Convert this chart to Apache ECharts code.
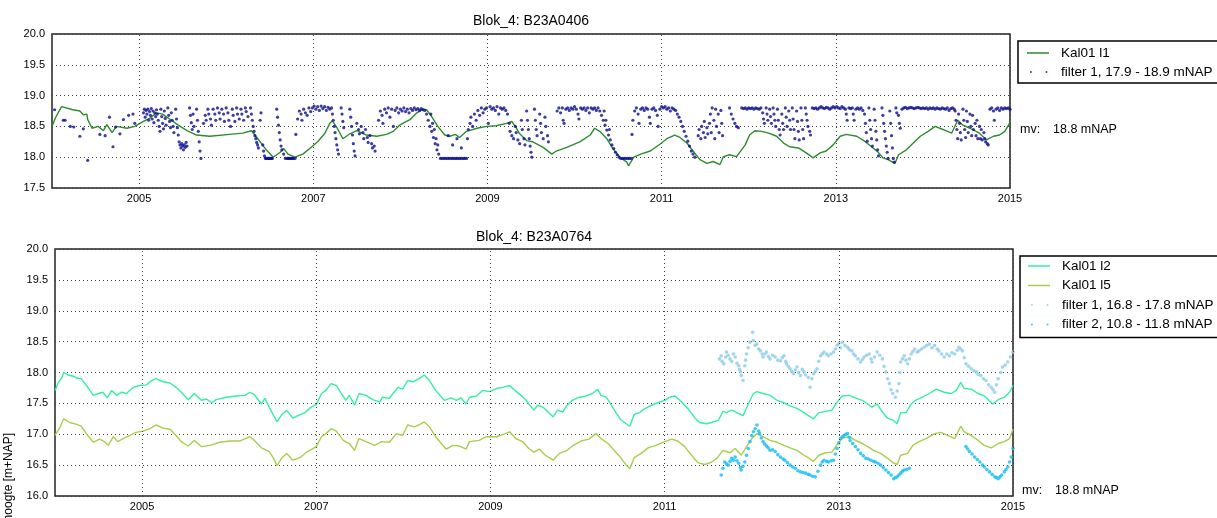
<!DOCTYPE html>
<html>
<head>
<meta charset="utf-8">
<script src="https://cdn.jsdelivr.net/npm/echarts@6/dist/echarts.min.js"></script>
<style>
  html, body { margin: 0; padding: 0; background: #fff; }
  #chart { width: 1217px; height: 518px; }
</style>
</head>
<body>
<div id="chart"></div>
<script>
var FONT = '"Liberation Sans", Arial, sans-serif';

// x values are decimal years
var yearTicks = [2005, 2007, 2009, 2011, 2013, 2015];

// --- Blok_4: B23A0406 ---
var kal01_l1 = [[2004.0,18.5],[2004.04,18.64],[2004.11,18.82],[2004.24,18.77],[2004.32,18.75],[2004.36,18.69],[2004.4,18.7],[2004.41,18.61],[2004.46,18.47],[2004.53,18.5],[2004.59,18.43],[2004.63,18.53],[2004.69,18.4],[2004.74,18.5],[2004.86,18.47],[2004.95,18.5],[2005.05,18.58],[2005.13,18.64],[2005.2,18.72],[2005.27,18.7],[2005.35,18.62],[2005.45,18.52],[2005.55,18.43],[2005.66,18.36],[2005.81,18.34],[2006.04,18.37],[2006.19,18.39],[2006.29,18.43],[2006.33,18.36],[2006.39,18.25],[2006.46,18.12],[2006.54,18.0],[2006.62,18.08],[2006.66,18.14],[2006.71,18.05],[2006.79,18.0],[2006.88,18.05],[2006.96,18.14],[2007.05,18.25],[2007.13,18.38],[2007.19,18.55],[2007.22,18.59],[2007.28,18.46],[2007.34,18.3],[2007.42,18.38],[2007.5,18.43],[2007.61,18.36],[2007.73,18.34],[2007.84,18.37],[2007.92,18.42],[2008.0,18.53],[2008.11,18.61],[2008.19,18.72],[2008.26,18.78],[2008.3,18.77],[2008.36,18.66],[2008.43,18.5],[2008.51,18.36],[2008.57,18.34],[2008.63,18.37],[2008.68,18.32],[2008.76,18.42],[2008.88,18.47],[2008.99,18.5],[2009.1,18.51],[2009.22,18.55],[2009.28,18.58],[2009.32,18.5],[2009.37,18.38],[2009.45,18.27],[2009.52,18.25],[2009.64,18.16],[2009.74,18.05],[2009.79,18.1],[2009.91,18.16],[2010.06,18.25],[2010.18,18.36],[2010.23,18.47],[2010.29,18.42],[2010.37,18.3],[2010.44,18.14],[2010.52,18.0],[2010.6,17.92],[2010.62,17.86],[2010.68,18.0],[2010.76,18.05],[2010.87,18.1],[2010.98,18.21],[2011.06,18.3],[2011.15,18.36],[2011.21,18.32],[2011.29,18.23],[2011.36,18.1],[2011.44,17.96],[2011.52,17.9],[2011.59,17.93],[2011.67,17.88],[2011.71,18.01],[2011.78,18.04],[2011.86,18.01],[2011.96,18.2],[2012.01,18.36],[2012.07,18.43],[2012.15,18.42],[2012.23,18.39],[2012.32,18.34],[2012.4,18.23],[2012.47,18.17],[2012.57,18.15],[2012.66,18.07],[2012.74,17.99],[2012.82,18.07],[2012.89,18.1],[2012.97,18.2],[2013.05,18.34],[2013.12,18.37],[2013.24,18.34],[2013.33,18.26],[2013.41,18.17],[2013.48,18.09],[2013.54,17.99],[2013.6,17.96],[2013.68,17.9],[2013.72,18.04],[2013.81,18.12],[2013.89,18.23],[2013.97,18.34],[2014.06,18.42],[2014.14,18.5],[2014.23,18.45],[2014.33,18.39],[2014.4,18.6],[2014.46,18.52],[2014.54,18.47],[2014.65,18.39],[2014.73,18.28],[2014.81,18.34],[2014.88,18.36],[2014.94,18.42],[2015.0,18.56]];

var filter1_0406 = [
[2004.03,18.77],[2004.13,18.6],[2004.15,18.6],[2004.21,18.5],[2004.25,18.49],[2004.32,18.34],[2004.36,18.46],[2004.41,17.95],[2004.55,18.37],[2004.61,18.35],[2004.66,18.65],[2004.7,18.17],[2004.73,18.49],[2004.78,18.38],[2004.82,18.61],[2004.88,18.68],[2004.93,18.7],[2004.95,18.55],
[2005.05,18.72],[2005.06,18.78],[2005.07,18.65],[2005.08,18.76],[2005.09,18.7],[2005.1,18.78],[2005.11,18.6],[2005.12,18.74],[2005.13,18.68],[2005.14,18.79],[2005.15,18.62],[2005.16,18.75],[2005.17,18.56],[2005.18,18.72],[2005.19,18.66],[2005.2,18.77],
[2005.21,18.7],[2005.22,18.6],[2005.23,18.5],[2005.24,18.42],[2005.25,18.78],[2005.26,18.66],[2005.27,18.55],[2005.28,18.46],[2005.29,18.75],[2005.3,18.63],[2005.31,18.52],
[2005.33,18.8],[2005.34,18.68],[2005.35,18.58],[2005.36,18.48],[2005.37,18.72],[2005.38,18.6],[2005.39,18.5],[2005.4,18.4],
[2005.42,18.78],[2005.43,18.62],[2005.44,18.48],[2005.45,18.36],[2005.46,18.25],[2005.47,18.2],[2005.48,18.15],[2005.49,18.22],[2005.5,18.18],[2005.51,18.12],[2005.52,18.2],[2005.53,18.16],[2005.54,18.24],[2005.55,18.18],
[2005.58,18.8],[2005.59,18.68],[2005.6,18.56],[2005.61,18.45],[2005.62,18.7],[2005.63,18.5],
[2005.66,18.78],[2005.67,18.6],[2005.68,18.42],[2005.69,18.25],[2005.7,18.1],[2005.71,17.98],
[2005.74,18.55],[2005.76,18.68],[2005.77,18.6],[2005.79,18.78],[2005.8,18.7],[2005.82,18.62],[2005.83,18.52],[2005.85,18.78],[2005.87,18.7],[2005.88,18.6],[2005.9,18.8],[2005.92,18.72],[2005.93,18.62],[2005.95,18.78],[2005.97,18.7],[2005.98,18.58],[2006.0,18.8],[2006.02,18.72],[2006.03,18.6],[2006.05,18.5],[2006.07,18.78],[2006.08,18.68],[2006.1,18.58],[2006.12,18.8],[2006.13,18.7],[2006.15,18.62],[2006.17,18.78],[2006.18,18.7],[2006.2,18.6],[2006.22,18.8],[2006.23,18.74],[2006.25,18.66],
[2006.28,18.8],[2006.29,18.7],[2006.3,18.6],[2006.31,18.5],[2006.32,18.42],[2006.33,18.35],[2006.34,18.3],[2006.35,18.24],[2006.36,18.2],[2006.37,18.15],[2006.39,18.6],[2006.4,18.72],
[2006.42,18.2],[2006.43,18.1],[2006.44,18.02],[2006.45,17.98],[2006.46,17.98],[2006.47,17.98],[2006.48,17.98],[2006.49,17.98],[2006.5,17.98],[2006.51,17.98],[2006.52,17.98],[2006.53,17.98],
[2006.58,18.78],[2006.59,18.65],[2006.6,18.52],[2006.61,18.4],[2006.62,18.28],[2006.63,18.18],[2006.64,18.12],
[2006.66,18.05],[2006.68,17.98],[2006.7,17.98],[2006.71,17.98],[2006.72,17.98],[2006.73,17.98],[2006.74,17.98],[2006.75,17.98],[2006.76,17.98],[2006.77,17.98],[2006.79,17.98],[2006.8,18.37],
[2006.82,18.62],[2006.84,18.75],[2006.86,18.7],[2006.87,18.6],[2006.89,18.78],[2006.91,18.72],[2006.93,18.68],[2006.95,18.8],[2006.97,18.74],
[2006.99,18.8],[2007.01,18.83],[2007.03,18.78],[2007.05,18.82],[2007.07,18.76],[2007.09,18.83],[2007.11,18.79],[2007.13,18.82],[2007.15,18.76],[2007.17,18.81],[2007.19,18.78],
[2007.21,18.8],[2007.22,18.7],[2007.23,18.6],[2007.24,18.5],[2007.25,18.4],[2007.26,18.3],[2007.27,18.2],[2007.28,18.12],[2007.29,18.05],
[2007.32,18.8],[2007.33,18.7],[2007.34,18.58],[2007.35,18.48],
[2007.42,18.78],[2007.43,18.65],[2007.44,18.5],[2007.45,18.36],[2007.46,18.22],[2007.47,18.1],[2007.48,18.02],
[2007.5,18.55],[2007.52,18.45],[2007.53,18.38],[2007.55,18.5],[2007.57,18.4],[2007.58,18.3],[2007.6,18.45],[2007.62,18.32],[2007.63,18.24],[2007.65,18.35],[2007.67,18.22],[2007.68,18.15],[2007.7,18.18],[2007.71,18.1],
[2007.75,18.6],[2007.77,18.75],[2007.79,18.68],[2007.8,18.55],[2007.82,18.78],[2007.84,18.72],[2007.86,18.8],[2007.88,18.65],[2007.9,18.78],[2007.92,18.5],[2007.94,18.76],[2007.96,18.8],[2007.98,18.72],[2008.0,18.78],[2008.02,18.75],[2008.04,18.8],[2008.06,18.74],[2008.08,18.78],[2008.1,18.72],[2008.12,18.79],[2008.14,18.76],[2008.16,18.8],[2008.18,18.77],[2008.2,18.79],[2008.22,18.76],[2008.24,18.79],[2008.26,18.77],
[2008.28,18.76],[2008.3,18.7],[2008.32,18.6],[2008.34,18.5],[2008.36,18.42],[2008.38,18.32],[2008.4,18.22],[2008.42,18.12],[2008.44,18.05],[2008.35,18.7],[2008.37,18.55],[2008.39,18.45],[2008.41,18.3],[2008.43,18.2],
[2008.46,17.98],[2008.48,17.98],[2008.5,17.98],[2008.52,17.98],[2008.54,17.98],[2008.56,17.98],[2008.58,17.98],[2008.6,17.98],[2008.62,17.98],[2008.64,17.98],[2008.66,17.98],[2008.68,17.98],[2008.7,17.98],[2008.72,17.98],[2008.74,17.98],[2008.76,17.98],[2008.55,18.35],[2008.6,18.2],[2008.65,18.3],[2008.7,18.15],
[2008.77,18.3],[2008.78,18.45],[2008.8,18.55],[2008.81,18.65],[2008.83,18.5],[2008.85,18.7],[2008.87,18.6],[2008.89,18.76],[2008.91,18.68],[2008.93,18.8],[2008.95,18.72],[2008.97,18.78],[2008.99,18.8],
[2009.01,18.55],[2009.03,18.82],[2009.05,18.78],[2009.07,18.8],[2009.09,18.76],[2009.11,18.82],[2009.13,18.7],[2009.15,18.8],[2009.17,18.78],[2009.19,18.8],[2009.21,18.76],
[2009.23,18.7],[2009.25,18.55],[2009.26,18.42],[2009.28,18.35],[2009.3,18.3],[2009.32,18.5],[2009.33,18.4],[2009.35,18.28],[2009.37,18.22],[2009.39,18.6],[2009.4,18.45],[2009.42,18.3],[2009.43,18.2],[2009.45,18.75],[2009.46,18.6],[2009.47,18.45],[2009.48,18.3],[2009.49,18.18],[2009.5,18.08],[2009.51,18.0],
[2009.54,18.78],[2009.55,18.6],[2009.56,18.45],[2009.57,18.35],[2009.6,18.7],[2009.61,18.55],[2009.62,18.4],[2009.64,18.3],[2009.66,18.65],[2009.67,18.5],[2009.69,18.35],[2009.7,18.25],
[2009.8,18.75],[2009.82,18.8],[2009.84,18.72],[2009.86,18.8],[2009.87,18.6],[2009.88,18.55],[2009.9,18.78],[2009.92,18.8],[2009.94,18.76],[2009.96,18.8],[2009.98,18.78],[2010.0,18.82],[2010.02,18.78],[2010.04,18.7],[2010.05,18.62],[2010.07,18.8],[2010.09,18.78],[2010.11,18.8],[2010.13,18.76],[2010.15,18.8],[2010.17,18.72],[2010.19,18.8],[2010.21,18.78],[2010.23,18.8],[2010.25,18.76],[2010.27,18.8],
[2010.29,18.75],[2010.31,18.68],[2010.33,18.6],[2010.35,18.52],[2010.37,18.44],[2010.39,18.36],[2010.41,18.28],[2010.43,18.2],[2010.45,18.14],[2010.47,18.08],[2010.49,18.04],[2010.51,18.0],[2010.34,18.75],[2010.36,18.6],[2010.4,18.45],
[2010.53,17.98],[2010.55,17.98],[2010.57,17.98],[2010.59,17.98],[2010.61,17.98],[2010.63,17.98],[2010.65,17.98],[2010.66,18.37],
[2010.67,18.6],[2010.69,18.75],[2010.71,18.8],[2010.73,18.7],[2010.74,18.55],[2010.76,18.78],[2010.78,18.8],[2010.8,18.76],[2010.82,18.8],[2010.84,18.78],[2010.86,18.65],[2010.87,18.55],[2010.89,18.78],[2010.91,18.8],[2010.93,18.76],[2010.95,18.68],[2010.96,18.5],[2010.98,18.78],[2011.0,18.82],[2011.02,18.8],[2011.04,18.82],[2011.06,18.78],[2011.08,18.8],[2011.1,18.75],[2011.12,18.8],[2011.14,18.78],[2011.16,18.76],[2011.18,18.7],
[2011.2,18.65],[2011.22,18.58],[2011.24,18.5],[2011.26,18.42],[2011.28,18.34],[2011.3,18.26],[2011.32,18.18],[2011.34,18.1],[2011.36,18.05],[2011.38,18.0],
[2011.42,18.35],[2011.43,18.45],[2011.45,18.3],[2011.46,18.5],[2011.48,18.4],[2011.49,18.58],[2011.5,18.32],[2011.52,18.48],[2011.53,18.38],[2011.55,18.55],
[2011.56,18.7],[2011.57,18.4],[2011.58,18.8],[2011.6,18.6],[2011.61,18.3],[2011.62,18.78],[2011.63,18.5],[2011.65,18.7],[2011.66,18.4],[2011.68,18.76],[2011.69,18.55],[2011.7,18.35],
[2011.78,18.8],[2011.8,18.7],[2011.82,18.62],[2011.84,18.55],[2011.86,18.5],[2011.88,18.48],
[2011.92,18.8],[2011.94,18.79],[2011.96,18.8],[2011.98,18.78],[2012.0,18.8],[2012.02,18.79],[2012.04,18.8],[2012.06,18.78],[2012.08,18.8],[2012.1,18.79],[2012.12,18.78],[2012.14,18.8],
[2012.16,18.72],[2012.17,18.62],[2012.18,18.55],[2012.2,18.8],[2012.21,18.7],[2012.22,18.6],[2012.24,18.78],[2012.25,18.66],[2012.26,18.55],[2012.28,18.8],[2012.29,18.7],
[2012.3,18.6],[2012.31,18.5],[2012.33,18.78],[2012.34,18.6],[2012.35,18.45],[2012.36,18.36],[2012.38,18.7],[2012.39,18.55],[2012.4,18.45],[2012.42,18.8],[2012.43,18.65],[2012.44,18.5],[2012.46,18.75],[2012.47,18.6],[2012.48,18.45],
[2012.5,18.8],[2012.51,18.62],[2012.52,18.45],[2012.53,18.3],[2012.55,18.75],[2012.56,18.58],[2012.57,18.42],[2012.58,18.28],[2012.6,18.8],[2012.61,18.6],[2012.62,18.45],[2012.63,18.3],
[2012.65,18.8],[2012.66,18.7],[2012.67,18.6],[2012.68,18.5],[2012.7,18.42],[2012.71,18.36],
[2012.73,18.8],[2012.75,18.79],[2012.77,18.8],[2012.79,18.78],[2012.81,18.8],[2012.83,18.82],[2012.85,18.8],[2012.87,18.79],[2012.89,18.81],[2012.91,18.8],[2012.93,18.78],[2012.95,18.8],[2012.97,18.82],[2012.99,18.8],
[2013.01,18.82],[2013.03,18.8],[2013.05,18.79],[2013.07,18.82],[2013.09,18.8],[2013.11,18.78],[2013.12,18.7],[2013.13,18.6],[2013.15,18.8],[2013.17,18.79],[2013.19,18.8],[2013.2,18.7],[2013.21,18.6],[2013.23,18.78],[2013.25,18.8],[2013.27,18.78],[2013.29,18.8],[2013.31,18.76],
[2013.33,18.7],[2013.34,18.55],[2013.35,18.4],[2013.36,18.26],[2013.38,18.8],[2013.39,18.6],[2013.4,18.45],[2013.41,18.3],[2013.42,18.18],[2013.44,18.78],[2013.45,18.6],[2013.46,18.42],[2013.47,18.28],[2013.48,18.12],[2013.49,18.02],
[2013.53,18.8],[2013.54,18.68],[2013.55,18.55],[2013.56,18.42],[2013.57,18.3],[2013.58,18.18],[2013.59,18.08],[2013.6,17.98],[2013.62,18.75],[2013.63,18.55],[2013.64,18.35],[2013.65,18.15],[2013.66,17.98],[2013.67,17.92],
[2013.69,18.8],[2013.7,18.72],[2013.72,18.68],[2013.73,18.55],[2013.74,18.47],
[2013.76,18.78],[2013.78,18.8],[2013.8,18.81],[2013.82,18.79],[2013.84,18.8],[2013.86,18.81],[2013.88,18.8],[2013.9,18.79],[2013.92,18.8],[2013.94,18.81],[2013.96,18.8],[2013.98,18.79],[2014.0,18.8],[2014.02,18.79],[2014.04,18.8],[2014.06,18.78],[2014.08,18.8],[2014.1,18.79],[2014.12,18.8],[2014.14,18.78],[2014.16,18.8],[2014.18,18.79],[2014.2,18.78],[2014.22,18.8],[2014.24,18.79],[2014.26,18.78],[2014.28,18.8],[2014.3,18.76],[2014.32,18.79],[2014.34,18.8],[2014.36,18.78],
[2014.37,18.75],[2014.38,18.6],[2014.39,18.45],[2014.4,18.3],[2014.41,18.7],[2014.42,18.55],[2014.43,18.4],[2014.44,18.28],[2014.46,18.78],[2014.47,18.6],[2014.48,18.45],[2014.49,18.32],[2014.5,18.75],[2014.51,18.58],[2014.52,18.4],[2014.54,18.7],[2014.55,18.5],[2014.56,18.35],
[2014.57,18.68],[2014.58,18.45],[2014.6,18.55],[2014.61,18.35],[2014.62,18.6],[2014.63,18.3],[2014.65,18.5],[2014.66,18.3],[2014.67,18.45],[2014.68,18.28],[2014.7,18.4],[2014.71,18.3],[2014.72,18.25],[2014.74,18.22],[2014.75,18.2],
[2014.77,18.78],[2014.79,18.8],[2014.81,18.75],[2014.82,18.6],[2014.84,18.78],[2014.86,18.8],[2014.88,18.76],[2014.9,18.8],[2014.92,18.78],[2014.94,18.8],[2014.96,18.79],[2014.98,18.8],[2015.0,18.78]
];

// --- Blok_4: B23A0764 ---
var kal01_l2 = [[2004.0,17.71],[2004.04,17.84],[2004.08,17.92],[2004.1,18.0],[2004.15,17.96],[2004.21,17.94],[2004.25,17.91],[2004.3,17.9],[2004.36,17.79],[2004.44,17.63],[2004.5,17.66],[2004.55,17.68],[2004.6,17.59],[2004.65,17.71],[2004.71,17.63],[2004.76,17.68],[2004.82,17.66],[2004.9,17.76],[2004.97,17.79],[2005.05,17.8],[2005.11,17.87],[2005.16,17.9],[2005.24,17.85],[2005.32,17.83],[2005.39,17.76],[2005.45,17.68],[2005.53,17.56],[2005.6,17.66],[2005.68,17.55],[2005.74,17.57],[2005.8,17.51],[2005.85,17.56],[2005.97,17.6],[2006.08,17.62],[2006.18,17.63],[2006.24,17.68],[2006.29,17.64],[2006.37,17.49],[2006.41,17.58],[2006.46,17.44],[2006.5,17.33],[2006.55,17.2],[2006.6,17.31],[2006.66,17.39],[2006.73,17.26],[2006.79,17.3],[2006.87,17.35],[2006.94,17.44],[2007.0,17.48],[2007.06,17.66],[2007.11,17.71],[2007.17,17.82],[2007.23,17.79],[2007.28,17.68],[2007.34,17.55],[2007.38,17.63],[2007.44,17.47],[2007.49,17.66],[2007.57,17.63],[2007.65,17.56],[2007.73,17.52],[2007.76,17.6],[2007.84,17.58],[2007.88,17.66],[2007.94,17.76],[2007.99,17.73],[2008.05,17.87],[2008.11,17.85],[2008.19,17.91],[2008.24,17.96],[2008.3,17.87],[2008.37,17.71],[2008.47,17.55],[2008.55,17.59],[2008.61,17.55],[2008.66,17.59],[2008.72,17.49],[2008.76,17.6],[2008.84,17.62],[2008.91,17.71],[2008.99,17.69],[2009.07,17.74],[2009.14,17.76],[2009.22,17.79],[2009.28,17.71],[2009.35,17.63],[2009.41,17.55],[2009.44,17.49],[2009.5,17.39],[2009.54,17.47],[2009.6,17.44],[2009.67,17.35],[2009.72,17.28],[2009.77,17.39],[2009.83,17.36],[2009.88,17.47],[2009.94,17.55],[2010.02,17.6],[2010.1,17.62],[2010.17,17.66],[2010.23,17.73],[2010.27,17.63],[2010.33,17.6],[2010.38,17.49],[2010.44,17.35],[2010.5,17.23],[2010.56,17.17],[2010.6,17.13],[2010.65,17.32],[2010.71,17.35],[2010.77,17.41],[2010.85,17.47],[2010.92,17.51],[2011.0,17.55],[2011.06,17.6],[2011.12,17.62],[2011.19,17.53],[2011.27,17.41],[2011.35,17.26],[2011.4,17.19],[2011.48,17.17],[2011.54,17.19],[2011.62,17.23],[2011.67,17.37],[2011.71,17.35],[2011.77,17.39],[2011.83,17.35],[2011.9,17.3],[2011.96,17.49],[2012.02,17.66],[2012.06,17.69],[2012.13,17.66],[2012.21,17.63],[2012.29,17.55],[2012.37,17.51],[2012.44,17.46],[2012.52,17.42],[2012.6,17.35],[2012.65,17.3],[2012.71,17.25],[2012.77,17.35],[2012.85,17.37],[2012.92,17.39],[2012.98,17.52],[2013.04,17.62],[2013.12,17.63],[2013.19,17.59],[2013.27,17.55],[2013.33,17.49],[2013.38,17.44],[2013.44,17.49],[2013.5,17.36],[2013.56,17.26],[2013.62,17.23],[2013.67,17.17],[2013.71,17.35],[2013.77,17.35],[2013.83,17.49],[2013.88,17.55],[2013.96,17.6],[2014.04,17.66],[2014.12,17.73],[2014.21,17.68],[2014.29,17.66],[2014.35,17.71],[2014.4,17.84],[2014.44,17.74],[2014.52,17.73],[2014.6,17.66],[2014.67,17.62],[2014.77,17.49],[2014.83,17.56],[2014.9,17.6],[2014.96,17.68],[2015.0,17.79]];

var kal01_l5 = [[2004.0,16.98],[2004.06,17.12],[2004.1,17.25],[2004.17,17.19],[2004.25,17.16],[2004.3,17.13],[2004.36,17.01],[2004.44,16.87],[2004.51,16.92],[2004.57,16.88],[2004.61,16.82],[2004.67,16.96],[2004.72,16.88],[2004.78,16.93],[2004.86,16.98],[2004.93,17.03],[2005.01,17.05],[2005.09,17.09],[2005.16,17.15],[2005.24,17.1],[2005.32,17.08],[2005.39,16.98],[2005.45,16.88],[2005.53,16.81],[2005.6,16.9],[2005.68,16.8],[2005.78,16.82],[2005.89,16.87],[2006.01,16.89],[2006.12,16.89],[2006.24,16.96],[2006.29,16.9],[2006.37,16.78],[2006.46,16.72],[2006.51,16.61],[2006.55,16.49],[2006.6,16.61],[2006.66,16.69],[2006.73,16.58],[2006.81,16.62],[2006.9,16.72],[2007.0,16.8],[2007.06,16.96],[2007.11,17.01],[2007.17,17.09],[2007.23,17.05],[2007.31,16.9],[2007.38,16.85],[2007.44,16.74],[2007.49,16.93],[2007.57,16.88],[2007.67,16.82],[2007.75,16.88],[2007.84,16.87],[2007.92,17.01],[2007.99,16.98],[2008.05,17.15],[2008.13,17.12],[2008.19,17.16],[2008.24,17.2],[2008.3,17.12],[2008.37,16.96],[2008.49,16.76],[2008.57,16.82],[2008.64,16.81],[2008.72,16.76],[2008.76,16.88],[2008.87,16.9],[2008.95,16.96],[2009.07,16.96],[2009.17,17.01],[2009.22,17.04],[2009.29,16.93],[2009.37,16.88],[2009.44,16.77],[2009.5,16.71],[2009.56,16.76],[2009.63,16.66],[2009.72,16.58],[2009.79,16.69],[2009.87,16.73],[2009.94,16.81],[2010.04,16.89],[2010.13,16.92],[2010.21,17.01],[2010.27,16.93],[2010.35,16.85],[2010.42,16.74],[2010.5,16.61],[2010.56,16.5],[2010.6,16.44],[2010.65,16.62],[2010.73,16.69],[2010.81,16.78],[2010.9,16.82],[2011.0,16.88],[2011.08,16.92],[2011.15,16.89],[2011.23,16.8],[2011.31,16.66],[2011.38,16.54],[2011.46,16.51],[2011.54,16.55],[2011.6,16.61],[2011.67,16.74],[2011.75,16.7],[2011.81,16.77],[2011.88,16.66],[2011.94,16.8],[2012.0,16.93],[2012.06,17.01],[2012.13,16.96],[2012.21,16.9],[2012.29,16.87],[2012.37,16.82],[2012.44,16.78],[2012.52,16.74],[2012.6,16.66],[2012.65,16.62],[2012.71,16.56],[2012.77,16.66],[2012.85,16.7],[2012.92,16.71],[2012.98,16.83],[2013.04,16.94],[2013.12,16.96],[2013.19,16.9],[2013.27,16.85],[2013.33,16.8],[2013.4,16.74],[2013.48,16.69],[2013.56,16.61],[2013.62,16.54],[2013.67,16.51],[2013.71,16.66],[2013.79,16.69],[2013.85,16.82],[2013.92,16.88],[2014.0,16.93],[2014.1,17.01],[2014.17,17.03],[2014.25,16.98],[2014.33,16.93],[2014.4,17.13],[2014.44,17.04],[2014.52,16.98],[2014.6,16.9],[2014.67,16.82],[2014.75,16.78],[2014.83,16.85],[2014.9,16.88],[2014.96,16.93],[2015.0,17.08]];

var filter1_0764 = [[2011.63,18.22],[2011.65,18.27],[2011.66,18.18],[2011.68,18.14],[2011.7,18.25],[2011.71,18.33],[2011.73,18.28],[2011.75,18.22],[2011.77,18.18],[2011.79,18.3],[2011.81,18.25],[2011.83,18.15],[2011.85,18.11],[2011.86,18.05],[2011.87,18.01],[2011.88,17.95],[2011.9,17.87],[2011.92,18.11],[2011.93,18.2],[2011.94,18.3],[2011.96,18.4],[2011.98,18.49],[2012.01,18.65],[2012.02,18.52],[2012.04,18.44],[2012.06,18.46],[2012.08,18.38],[2012.1,18.35],[2012.12,18.3],[2012.13,18.25],[2012.15,18.3],[2012.17,18.33],[2012.19,18.26],[2012.21,18.22],[2012.24,18.28],[2012.27,18.25],[2012.3,18.2],[2012.33,18.19],[2012.35,18.24],[2012.37,18.27],[2012.39,18.18],[2012.4,18.14],[2012.42,18.1],[2012.44,18.06],[2012.46,18.02],[2012.48,17.98],[2012.5,18.04],[2012.52,18.09],[2012.54,18.0],[2012.56,17.95],[2012.58,18.05],[2012.6,18.01],[2012.62,17.96],[2012.65,17.92],[2012.67,17.76],[2012.69,17.9],[2012.71,17.98],[2012.73,18.02],[2012.75,18.06],[2012.77,18.18],[2012.79,18.27],[2012.81,18.3],[2012.83,18.33],[2012.86,18.3],[2012.88,18.27],[2012.91,18.3],[2012.94,18.33],[2012.96,18.38],[2012.98,18.44],[2013.0,18.47],[2013.02,18.4],[2013.04,18.49],[2013.07,18.44],[2013.1,18.41],[2013.12,18.37],[2013.15,18.35],[2013.17,18.3],[2013.19,18.27],[2013.22,18.22],[2013.25,18.17],[2013.27,18.21],[2013.29,18.25],[2013.32,18.28],[2013.35,18.3],[2013.37,18.22],[2013.38,18.17],[2013.41,18.25],[2013.44,18.33],[2013.47,18.28],[2013.5,18.22],[2013.52,18.1],[2013.54,18.01],[2013.56,17.9],[2013.58,17.82],[2013.6,17.72],[2013.62,17.66],[2013.65,17.6],[2013.67,17.7],[2013.69,17.82],[2013.7,18.0],[2013.71,18.17],[2013.73,18.22],[2013.75,18.27],[2013.77,18.2],[2013.79,18.14],[2013.81,18.22],[2013.83,18.3],[2013.85,18.34],[2013.87,18.38],[2013.9,18.33],[2013.92,18.35],[2013.95,18.38],[2013.98,18.41],[2014.01,18.44],[2014.04,18.46],[2014.07,18.4],[2014.1,18.44],[2014.13,18.38],[2014.15,18.35],[2014.18,18.3],[2014.21,18.25],[2014.24,18.3],[2014.27,18.27],[2014.3,18.32],[2014.33,18.3],[2014.36,18.36],[2014.38,18.41],[2014.4,18.38],[2014.42,18.35],[2014.44,18.24],[2014.46,18.14],[2014.49,18.1],[2014.52,18.06],[2014.55,18.03],[2014.58,18.01],[2014.6,17.97],[2014.63,17.95],[2014.66,17.9],[2014.69,17.87],[2014.72,17.8],[2014.75,17.76],[2014.77,17.72],[2014.79,17.68],[2014.81,17.8],[2014.83,17.9],[2014.86,18.0],[2014.88,18.09],[2014.91,18.12],[2014.94,18.17],[2014.97,18.25],[2015.0,18.33]];

var filter2_0764 = [[2011.65,16.34],[2011.67,16.45],[2011.69,16.55],[2011.71,16.52],[2011.73,16.5],[2011.75,16.56],[2011.77,16.61],[2011.79,16.58],[2011.81,16.63],[2011.83,16.57],[2011.85,16.53],[2011.87,16.46],[2011.88,16.42],[2011.9,16.48],[2011.92,16.55],[2011.94,16.66],[2011.96,16.77],[2011.98,16.88],[2012.0,16.98],[2012.02,17.04],[2012.04,17.09],[2012.06,17.15],[2012.08,17.05],[2012.09,17.01],[2012.11,16.94],[2012.13,16.88],[2012.15,16.84],[2012.17,16.81],[2012.19,16.78],[2012.21,16.74],[2012.24,16.75],[2012.27,16.72],[2012.3,16.67],[2012.33,16.63],[2012.36,16.6],[2012.38,16.58],[2012.41,16.54],[2012.44,16.5],[2012.47,16.47],[2012.5,16.45],[2012.53,16.41],[2012.56,16.39],[2012.59,16.38],[2012.62,16.37],[2012.65,16.35],[2012.67,16.34],[2012.7,16.32],[2012.73,16.31],[2012.76,16.4],[2012.79,16.5],[2012.81,16.55],[2012.83,16.58],[2012.86,16.56],[2012.88,16.55],[2012.91,16.57],[2012.94,16.58],[2012.96,16.68],[2012.98,16.77],[2013.0,16.86],[2013.02,16.93],[2013.04,16.96],[2013.06,16.98],[2013.08,17.0],[2013.1,17.01],[2013.12,16.95],[2013.13,16.9],[2013.16,16.85],[2013.19,16.8],[2013.22,16.75],[2013.25,16.69],[2013.28,16.65],[2013.31,16.61],[2013.34,16.6],[2013.37,16.58],[2013.4,16.56],[2013.42,16.55],[2013.45,16.53],[2013.48,16.5],[2013.51,16.46],[2013.54,16.42],[2013.57,16.38],[2013.6,16.34],[2013.63,16.28],[2013.65,16.3],[2013.67,16.31],[2013.69,16.34],[2013.71,16.37],[2013.73,16.4],[2013.75,16.42],[2013.78,16.43],[2013.81,16.45],
[2014.46,16.8],[2014.48,16.76],[2014.5,16.72],[2014.53,16.68],[2014.56,16.63],[2014.59,16.59],[2014.62,16.55],[2014.65,16.5],[2014.67,16.47],[2014.7,16.43],[2014.73,16.39],[2014.76,16.35],[2014.79,16.31],[2014.81,16.3],[2014.83,16.28],[2014.85,16.31],[2014.87,16.34],[2014.9,16.39],[2014.92,16.43],[2014.94,16.47],[2014.96,16.55],[2014.98,16.63],[2015.0,16.77]];

var chart = echarts.init(document.getElementById('chart'));

var gridLine = { type: [1, 3], color: '#444', width: 1 };
var labelStyle = { color: '#000', fontSize: 11, fontFamily: FONT };

function xAxisFor(gi) {
    return {
        type: 'value', gridIndex: gi, min: 2004, max: 2015, interval: 1,
        axisLine: { show: false }, axisTick: { show: false }, splitLine: { show: false },
        axisLabel: Object.assign({ margin: 5, formatter: function (v) {
            return yearTicks.indexOf(Math.round(v)) >= 0 ? String(Math.round(v)) : '';
        } }, labelStyle)
    };
}
function yAxisFor(gi, mn) {
    return {
        type: 'value', gridIndex: gi, min: mn, max: 20, interval: 0.5,
        axisLine: { show: false }, axisTick: { show: false },
        splitLine: { show: true, lineStyle: gridLine },
        axisLabel: Object.assign({ margin: 7, formatter: function (v) { return v.toFixed(1); } }, labelStyle)
    };
}
function vLines() {
    return {
        silent: true, symbol: 'none', label: { show: false },
        lineStyle: gridLine,
        data: yearTicks.map(function (y) { return { xAxis: y }; })
    };
}

// icons are 29 wide: 22 px of mark plus a near-invisible speck that reserves room before the text
var lineIcon = 'path://M0,0h22v1.4h-22zM28.95,0.65h0.05v0.05h-0.05z';
var dotIcon = 'path://M0,1.25a1.25,1.25 0 1,0 2.5,0a1.25,1.25 0 1,0 -2.5,0zM19.5,1.25a1.25,1.25 0 1,0 2.5,0a1.25,1.25 0 1,0 -2.5,0zM28.95,1.2h0.05v0.05h-0.05z';
var legendBase = {
    orient: 'vertical', itemWidth: 29, itemHeight: 2, itemGap: 5,
    backgroundColor: '#fff', borderColor: '#000', borderWidth: 1.5, borderRadius: 0,
    textStyle: { color: '#000', fontSize: 13.5, fontFamily: FONT, lineHeight: 14 }
};

var option = {
    animation: false,
    backgroundColor: '#fff',
    grid: [
        { left: 52, right: 207, top: 34, height: 154, show: true, borderColor: '#222', borderWidth: 1.5, backgroundColor: 'transparent' },
        { left: 55, right: 204, top: 249, height: 247, show: true, borderColor: '#222', borderWidth: 1.5, backgroundColor: 'transparent' }
    ],
    xAxis: [xAxisFor(0), xAxisFor(1)],
    yAxis: [yAxisFor(0, 17.5), yAxisFor(1, 16)],
    legend: [
        Object.assign({}, legendBase, {
            left: 1018, top: 41, padding: [5, 30, 4, 9],
            data: [{ name: 'Kal01 l1', icon: lineIcon }, { name: 'filter 1, 17.9 - 18.9 mNAP', icon: dotIcon }]
        }),
        Object.assign({}, legendBase, {
            left: 1020, top: 256, padding: [3, 30, 6, 8], itemGap: 5.5,
            data: [{ name: 'Kal01 l2', icon: lineIcon }, { name: 'Kal01 l5', icon: lineIcon },
                   { name: 'filter 1, 16.8 - 17.8 mNAP', icon: dotIcon }, { name: 'filter 2, 10.8 - 11.8 mNAP', icon: dotIcon }]
        })
    ],
    graphic: [
        { type: 'text', x: 531, y: 21, style: { text: 'Blok_4: B23A0406', fill: '#000', font: '14px ' + FONT, textAlign: 'center', textVerticalAlign: 'middle' } },
        { type: 'text', x: 534, y: 237, style: { text: 'Blok_4: B23A0764', fill: '#000', font: '14px ' + FONT, textAlign: 'center', textVerticalAlign: 'middle' } },
        { type: 'text', x: 1020, y: 130, style: { text: 'mv:', fill: '#000', font: '12.5px ' + FONT, textVerticalAlign: 'middle' } },
        { type: 'text', x: 1053, y: 130, style: { text: '18.8 mNAP', fill: '#000', font: '12.5px ' + FONT, textVerticalAlign: 'middle' } },
        { type: 'text', x: 1022, y: 491, style: { text: 'mv:', fill: '#000', font: '12.5px ' + FONT, textVerticalAlign: 'middle' } },
        { type: 'text', x: 1055, y: 491, style: { text: '18.8 mNAP', fill: '#000', font: '12.5px ' + FONT, textVerticalAlign: 'middle' } },
        { type: 'text', x: 9, y: 433, rotation: Math.PI / 2, style: { text: 'Stijghoogte [m+NAP]', fill: '#000', font: '12px ' + FONT, textAlign: 'right', textVerticalAlign: 'middle' } }
    ],
    series: [
        { name: 'Kal01 l1', type: 'line', xAxisIndex: 0, yAxisIndex: 0, data: kal01_l1, showSymbol: false,
          color: '#2e8b2e', lineStyle: { width: 1.4, color: '#2e8b2e' }, markLine: vLines(), z: 3 },
        { name: 'filter 1, 17.9 - 18.9 mNAP', type: 'scatter', xAxisIndex: 0, yAxisIndex: 0, data: filter1_0406,
          symbolSize: 3.2, itemStyle: { color: '#0c0c8c' }, z: 4 },
        { name: 'Kal01 l2', type: 'line', xAxisIndex: 1, yAxisIndex: 1, data: kal01_l2, showSymbol: false,
          color: '#33f0a3', lineStyle: { width: 1.4, color: '#33f0a3' }, markLine: vLines(), z: 3 },
        { name: 'Kal01 l5', type: 'line', xAxisIndex: 1, yAxisIndex: 1, data: kal01_l5, showSymbol: false,
          color: '#a6cf4a', lineStyle: { width: 1.4, color: '#a6cf4a' }, z: 3 },
        { name: 'filter 1, 16.8 - 17.8 mNAP', type: 'scatter', xAxisIndex: 1, yAxisIndex: 1, data: filter1_0764,
          symbolSize: 3.6, itemStyle: { color: '#8ccbe8' }, z: 4 },
        { name: 'filter 2, 10.8 - 11.8 mNAP', type: 'scatter', xAxisIndex: 1, yAxisIndex: 1, data: filter2_0764,
          symbolSize: 3.6, itemStyle: { color: '#10bdf5' }, z: 4 }
    ]
};
chart.setOption(option);
</script>
</body>
</html>
